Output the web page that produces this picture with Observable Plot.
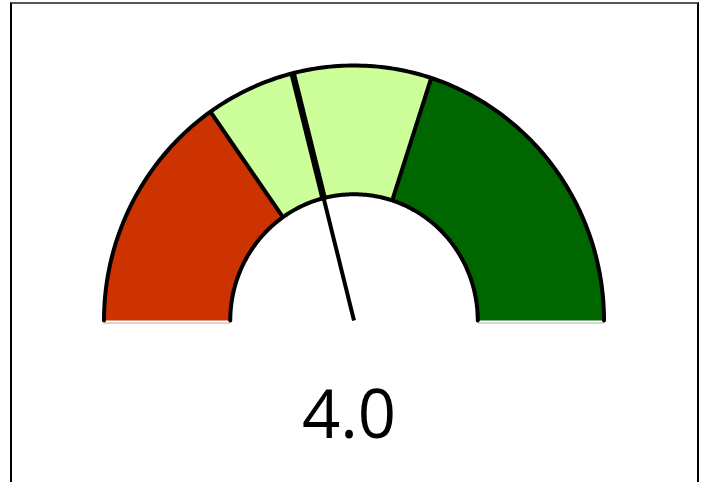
<!DOCTYPE html>
<html>
<head>
<meta charset="utf-8">
<script src="https://cdn.jsdelivr.net/npm/d3@7"></script>
<script src="https://cdn.jsdelivr.net/npm/@observablehq/plot@0.6"></script>
<style>
  html, body { margin: 0; padding: 0; background: #fff; }
  #wrap { position: relative; width: 705px; height: 482px; overflow: hidden; }
  #frame { position: absolute; left: 10px; top: 2px; width: 689px; height: 500px; border: 2px solid #000; border-top-color: #555; box-sizing: border-box; pointer-events: none; }
</style>
</head>
<body>
<div id="wrap"><div id="frame"></div></div>
<script>
// ---- data ----
const gaugeMin = 0;
const gaugeMax = 9.5;
const bandStarts = [0, 2.9, 4.0, 5.7];
const bandEnds = [2.9, 4.0, 5.7, 9.5];
const bandColors = ["#cc3300", "#ccff99", "#ccff99", "#006600"];
const needleValue = 4.0;
const valueLabel = ["4.0"];

// ---- geometry helpers ----
const R0 = 0.495, R1 = 1;
const ang = v => Math.PI - (v - gaugeMin) / (gaugeMax - gaugeMin) * Math.PI;
const pt = (r, v) => ({x: r * Math.cos(ang(v)), y: r * Math.sin(ang(v))});
const arc = (r, a, b, n = 80) => d3.range(n + 1).map(i => pt(r, a + (b - a) * i / n));

const bands = bandStarts.map((s, i) => ({start: s, end: bandEnds[i], color: bandColors[i], i}));
const polys = bands.flatMap(b => [...arc(R1, b.start, b.end), ...arc(R0, b.start, b.end).reverse()]
  .map(p => ({...p, i: b.i, color: b.color})));
const outerArc = arc(R1, gaugeMin, gaugeMax, 200);
const innerArc = arc(R0, gaugeMin, gaugeMax, 200);
const bounds = bandStarts.slice(1).map(v => ({a: pt(R0, v), b: pt(R1, v), w: v === needleValue ? 6.5 : 4}));
const needle = [{a: pt(0, needleValue), b: pt(R1, needleValue)}];
const baseLines = [{a: pt(R0, gaugeMin), b: pt(R1, gaugeMin)}, {a: pt(R0, gaugeMax), b: pt(R1, gaugeMax)}];

const chart = Plot.plot({
  width: 705,
  height: 482,
  margin: 0,
  x: {domain: [-353.5 / 250, (705 - 353.5) / 250], range: [0, 705], axis: null},
  y: {domain: [(320 - 482) / 255, 320 / 255], range: [482, 0], axis: null},
  color: {type: "identity"},
  marks: [
    Plot.line(polys, {x: "x", y: "y", z: "i", fill: "color", stroke: "none"}),
    Plot.link(baseLines, {x1: d => d.a.x, y1: d => d.a.y, x2: d => d.b.x, y2: d => d.b.y, stroke: "#c8c8c8", strokeWidth: 1.5, dy: 2.5}),
    Plot.line(outerArc, {x: "x", y: "y", stroke: "#000", strokeWidth: 4}),
    Plot.line(innerArc, {x: "x", y: "y", stroke: "#000", strokeWidth: 4}),
    Plot.link(bounds, {x1: d => d.a.x, y1: d => d.a.y, x2: d => d.b.x, y2: d => d.b.y, stroke: "#000", strokeWidth: d => d.w}),
    Plot.link(needle, {x1: d => d.a.x, y1: d => d.a.y, x2: d => d.b.x, y2: d => d.b.y, stroke: "#000", strokeWidth: 4}),
    Plot.text(valueLabel, {x: () => -0.02, y: () => -0.378, text: d => d, fontSize: 67, fontFamily: "Open Sans", fill: "#000", textAnchor: "middle", lineAnchor: "middle"})
  ]
});
chart.style.position = "absolute";
chart.style.left = "0";
chart.style.top = "0";
document.getElementById("wrap").prepend(chart);
</script>
</body>
</html>
